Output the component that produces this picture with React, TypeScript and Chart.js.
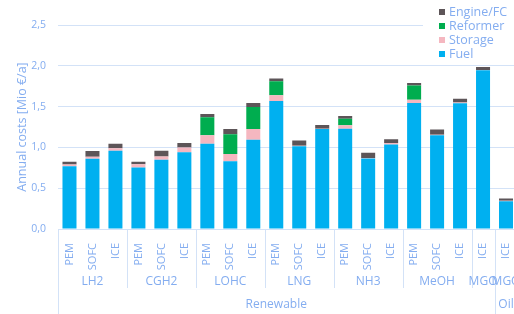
import { useEffect, useRef } from 'react';
import { Chart, registerables } from 'chart.js';

Chart.register(...registerables);

const categories = ['PEM', 'SOFC', 'ICE', 'PEM', 'SOFC', 'ICE', 'PEM', 'SOFC', 'ICE', 'PEM', 'SOFC', 'ICE', 'PEM', 'SOFC', 'ICE', 'PEM', 'SOFC', 'ICE', 'ICE', 'ICE'];
const groups = ['LH2', 'CGH2', 'LOHC', 'LNG', 'NH3', 'MeOH', 'MGO', 'MGO'];
const groupSizes = [3, 3, 3, 3, 3, 3, 1, 1];
const topGroups = ['Renewable', 'Oil'];
const topGroupSizes = [19, 1];

const fuel = [0.77, 0.86, 0.96, 0.755, 0.85, 0.94, 1.045, 0.83, 1.095, 1.57, 1.015, 1.225, 1.23, 0.865, 1.035, 1.545, 1.15, 1.54, 1.945, 0.34];
const storage = [0.02, 0.025, 0.03, 0.04, 0.04, 0.06, 0.105, 0.09, 0.13, 0.07, 0.005, 0.005, 0.04, 0.005, 0.02, 0.04, 0.005, 0.01, 0.005, 0.005];
const reformer = [0, 0, 0, 0, 0, 0, 0.22, 0.24, 0.27, 0.17, 0, 0, 0.08, 0, 0, 0.175, 0, 0, 0, 0];
const engine = [0.035, 0.07, 0.055, 0.03, 0.07, 0.055, 0.04, 0.065, 0.05, 0.035, 0.065, 0.045, 0.035, 0.065, 0.045, 0.03, 0.065, 0.045, 0.035, 0.03];

const yTickLabels = ['0,0', '0,5', '1,0', '1,5', '2,0', '2,5'];

const TEXT = '#84adf0';
const LINE = '#d3e2f7';
const FONT = "'Open Sans', sans-serif";

const groupPlugin = {
  id: 'groupAxis',
  afterDraw(chart: any) {
    const x = chart.scales.x;
    const ctx = chart.ctx;
    const step = x.getPixelForValue(1) - x.getPixelForValue(0);
    const edge = (i: number) => x.getPixelForValue(i) - step / 2;
    const bottom = chart.chartArea.bottom;
    const H = chart.height;
    ctx.save();
    ctx.strokeStyle = LINE;
    ctx.lineWidth = 1;
    let idx = 0;
    const topStarts = new Set<number>();
    let t = 0;
    topGroupSizes.forEach((s) => { topStarts.add(t); t += s; });
    topStarts.add(t);
    for (let g = 0; g <= groupSizes.length; g++) {
      const px = Math.round(edge(idx)) + 0.5;
      const yEnd = topStarts.has(idx) ? H : bottom + 59;
      ctx.beginPath();
      ctx.moveTo(px, bottom);
      ctx.lineTo(px, yEnd);
      ctx.stroke();
      if (g < groupSizes.length) idx += groupSizes[g];
    }
    ctx.fillStyle = TEXT;
    ctx.textAlign = 'center';
    ctx.textBaseline = 'middle';
    ctx.font = `12px ${FONT}`;
    idx = 0;
    groups.forEach((name, g) => {
      const cx = (edge(idx) + edge(idx + groupSizes[g])) / 2;
      ctx.fillText(name, cx, bottom + 53);
      idx += groupSizes[g];
    });
    idx = 0;
    topGroups.forEach((name, g) => {
      const cx = (edge(idx) + edge(idx + topGroupSizes[g])) / 2;
      ctx.fillText(name, cx, bottom + 76);
      idx += topGroupSizes[g];
    });
    const lx = 423;
    ctx.fillStyle = '#ffffff';
    ctx.fillRect(lx, 0, chart.width - lx, 62);
    const items = [...chart.data.datasets].reverse();
    ctx.textAlign = 'left';
    ctx.font = `12.5px ${FONT}`;
    items.forEach((ds: any, i: number) => {
      const cy = 12 + i * 14;
      ctx.fillStyle = ds.backgroundColor;
      ctx.fillRect(439, cy - 3, 6, 6);
      ctx.fillStyle = TEXT;
      ctx.fillText(ds.label, 449, cy);
    });
    ctx.restore();
  },
};

export default function App() {
  const ref = useRef<HTMLCanvasElement>(null);
  useEffect(() => {
    if (!ref.current) return;
    const chart = new Chart(ref.current, {
      type: 'bar',
      data: {
        labels: categories,
        datasets: [
          { label: 'Fuel', data: fuel, backgroundColor: '#00b0f0' },
          { label: 'Storage', data: storage, backgroundColor: '#f5b7c0' },
          { label: 'Reformer', data: reformer, backgroundColor: '#00ad4f' },
          { label: 'Engine/FC', data: engine, backgroundColor: '#5d5558' },
        ],
      },
      options: {
        animation: false,
        responsive: false,
        devicePixelRatio: 1,
        layout: { padding: { left: 15, right: 12.5, top: 25, bottom: 0 } },
        datasets: { bar: { categoryPercentage: 1, barPercentage: 0.61 } },
        plugins: { legend: { display: false }, tooltip: { enabled: false } },
        scales: {
          x: {
            stacked: true,
            grid: { display: false },
            border: { display: true, color: LINE },
            ticks: {
              color: TEXT,
              font: { family: FONT, size: 11 },
              minRotation: 90,
              maxRotation: 90,
              padding: 6,
              autoSkip: false,
            },
            afterFit: (s: any) => { s.height = 85; },
          },
          y: {
            stacked: true,
            min: 0,
            max: 2.5,
            grid: { color: LINE, drawTicks: false },
            border: { display: false },
            ticks: {
              stepSize: 0.5,
              color: TEXT,
              padding: 12,
              font: { family: FONT, size: 10.5 },
              callback: (_v: any, i: number) => yTickLabels[i],
            },
            title: {
              display: true,
              text: 'Annual costs [Mio €/a]',
              color: TEXT,
              font: { family: FONT, size: 12.5 },
              padding: 0,
            },
            afterFit: (s: any) => { s.width = 43; },
          },
        },
      },
      plugins: [groupPlugin],
    });
    return () => chart.destroy();
  }, []);
  return (
    <div style={{ position: 'absolute', left: 0, top: 0, width: 514, height: 314, overflow: 'hidden', background: '#fff' }}>
      <canvas ref={ref} width={530} height={314} style={{ display: 'block' }} />
    </div>
  );
}
